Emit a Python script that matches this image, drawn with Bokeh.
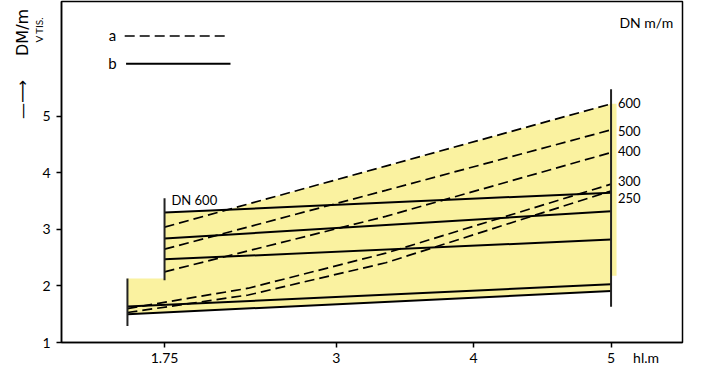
import numpy as np
from bokeh.plotting import figure
from bokeh.models import Range1d, FixedTicker, LinearAxis
from bokeh.core.properties import value
from bokeh.embed import file_html
from bokeh.resources import INLINE

# ---------------- data ----------------
x_ticks = [1.75, 3, 4, 5]
x_tick_labels = ["1.75", "3", "4", "5"]
x_unit_pos = 5.255
x_unit_label = "hl.m"
y_ticks = [1, 2, 3, 4, 5]

dn_labels = ["600", "500", "400", "300", "250"]
dn_label_y = [5.24, 4.74, 4.38, 3.86, 3.55]

# b : solid lines (start / end)
b_x0 = [1.75, 1.75, 1.75, 1.48, 1.48]
b_x1 = [5.0, 5.0, 5.0, 5.0, 5.0]
b_y0 = [3.30, 2.84, 2.47, 1.635, 1.50]
b_y1 = [3.65, 3.32, 2.82, 2.03, 1.91]

# a : dashed curves
a_600_x = [1.75, 3.36, 5.0]
a_600_y = [3.04, 4.12, 5.22]
a_500_x = [1.75, 3.36, 5.0]
a_500_y = [2.65, 3.69, 4.76]
a_400_x = [1.75, 3.36, 5.0]
a_400_y = [2.25, 3.23, 4.36]
a_300_x = [1.48, 2.36, 3.36, 5.0]
a_300_y = [1.60, 1.96, 2.58, 3.80]
a_250_x = [1.48, 2.36, 3.36, 5.0]
a_250_y = [1.53, 1.84, 2.41, 3.68]

# frame of the shaded field
step_low_x = 1.48
step_low_top = 2.13
step_x = 1.75
strip_right = 5.04
strip_bottom = 2.18

# vertical limit lines
vert_x = [1.48, 1.75, 5.0]
vert_y0 = [1.29, 2.10, 1.63]
vert_y1 = [2.13, 3.55, 5.48]

# y-title positions
title_pos = {"DM/m": 6.9, "\u2014\u27f6": 5.64}
vtis_pos = 6.76

FONT = "Lato"
YELLOW = "#FAF2A0"

p = figure(width=685, height=368, output_backend="svg", toolbar_location=None,
           title=None,
           x_range=Range1d(1, 5.52), y_range=Range1d(1, 7.03),
           min_border=0, min_border_left=0, min_border_right=3, min_border_top=1,
           min_border_bottom=0)
p.xgrid.visible = False
p.ygrid.visible = False
p.outline_line_color = "black"
p.outline_line_width = 1.5
p.background_fill_color = "white"
p.border_fill_color = "white"
p.xaxis.axis_label = None
p.yaxis.axis_label = None

# main y axis
p.yaxis.ticker = FixedTicker(ticks=y_ticks)
p.yaxis.major_tick_out = 5
p.yaxis.major_tick_in = 0
p.yaxis.minor_tick_line_color = None
p.yaxis.axis_line_width = 1.5
p.yaxis.major_tick_line_width = 1.5
p.yaxis.major_label_text_font = FONT
p.yaxis.major_label_text_font_size = "14px"
p.yaxis.major_label_text_color = "black"
p.yaxis.major_label_standoff = 6

# extra left axes carrying the axis title
ax_v = LinearAxis(ticker=FixedTicker(ticks=[vtis_pos]),
                  major_label_overrides={vtis_pos: "V TIS."},
                  major_label_orientation=np.pi / 2,
                  major_label_text_font=FONT, major_label_text_font_size="10px",
                  major_label_text_color="black", major_label_standoff=0,
                  axis_line_color=None, major_tick_line_color=None,
                  minor_tick_line_color=None, major_tick_out=0, major_tick_in=0,
                  axis_label=None)
p.add_layout(ax_v, "left")
ax_t = LinearAxis(ticker=FixedTicker(ticks=list(title_pos.values())),
                  major_label_overrides={v: k for k, v in title_pos.items()},
                  major_label_orientation=np.pi / 2,
                  major_label_text_font="DejaVu Sans", major_label_text_font_size="16px",
                  major_label_text_color="black", major_label_standoff=2,
                  axis_line_color=None, major_tick_line_color=None,
                  minor_tick_line_color=None, major_tick_out=0, major_tick_in=0,
                  axis_label=None)
p.add_layout(ax_t, "left")

# x axis: major ticks carry the labels, minor ticks draw the marks
all_x = x_ticks + [x_unit_pos]
p.xaxis.ticker = FixedTicker(ticks=all_x, minor_ticks=x_ticks)
p.xaxis.major_label_overrides = dict(zip(all_x, x_tick_labels + [x_unit_label]))
p.xaxis.major_tick_line_color = None
p.xaxis.major_tick_out = 5
p.xaxis.major_tick_in = 0
p.xaxis.minor_tick_out = 5
p.xaxis.minor_tick_in = 0
p.xaxis.minor_tick_line_color = "black"
p.xaxis.minor_tick_line_width = 1.5
p.xaxis.axis_line_width = 1.5
p.xaxis.major_label_text_font = FONT
p.xaxis.major_label_text_font_size = "14px"
p.xaxis.major_label_text_color = "black"
p.xaxis.major_label_standoff = 1
p.xaxis.axis_label_standoff = 0

# shaded field
grid = np.linspace(step_x, b_x1[0], 300)
top = np.maximum(np.interp(grid, [b_x0[0], b_x1[0]], [b_y0[0], b_y1[0]]),
                 np.interp(grid, a_600_x, a_600_y))
poly_x = [step_low_x, step_low_x, step_x] + list(grid) + [b_x1[4], b_x0[4]]
poly_y = [b_y0[4], step_low_top, step_low_top] + list(top) + [b_y1[4], b_y0[4]]
p.patch(poly_x, poly_y, fill_color=YELLOW, line_color=None)
p.quad(left=[b_x1[0]], right=[strip_right], bottom=[strip_bottom], top=[a_600_y[-1]],
       fill_color=YELLOW, line_color=None)

# dashed (a)
for xs, ys in [(a_600_x, a_600_y), (a_500_x, a_500_y), (a_400_x, a_400_y),
               (a_300_x, a_300_y), (a_250_x, a_250_y)]:
    p.line(xs, ys, line_color="black", line_width=1.7, line_dash="10 5")

# solid (b)
p.segment(x0=b_x0, y0=b_y0, x1=b_x1, y1=b_y1, line_color="black", line_width=2)

# verticals
p.segment(x0=vert_x, y0=vert_y0, x1=vert_x, y1=vert_y1, line_color="#222222", line_width=2)

# DN labels at right
p.text(x=[5.05] * len(dn_labels), y=dn_label_y, text=dn_labels,
       text_font=value(FONT), text_font_size="13px", text_baseline="middle",
       text_align="left", text_color="black")

p.text(x=[1.80], y=[3.52], text=["DN 600"], text_font=value(FONT),
       text_font_size="13px", text_baseline="middle", text_align="left", text_color="black")

p.text(x=[5.257], y=[6.66], text=["DN m/m"], text_font=value(FONT),
       text_font_size="14px", text_baseline="middle", text_align="center", text_color="black")

# legend
p.text(x=[1.371, 1.371], y=[6.43, 5.95], text=["a", "b"], text_font=value(FONT),
       text_font_size="15px", text_baseline="middle", text_align="center", text_color="black")
p.line([1.46, 2.21], [6.42, 6.42], line_color="black", line_width=1.7, line_dash="10 5")
p.line([1.47, 2.23], [5.93, 5.93], line_color="black", line_width=2)

open("out.html", "w").write(file_html(p, INLINE))
